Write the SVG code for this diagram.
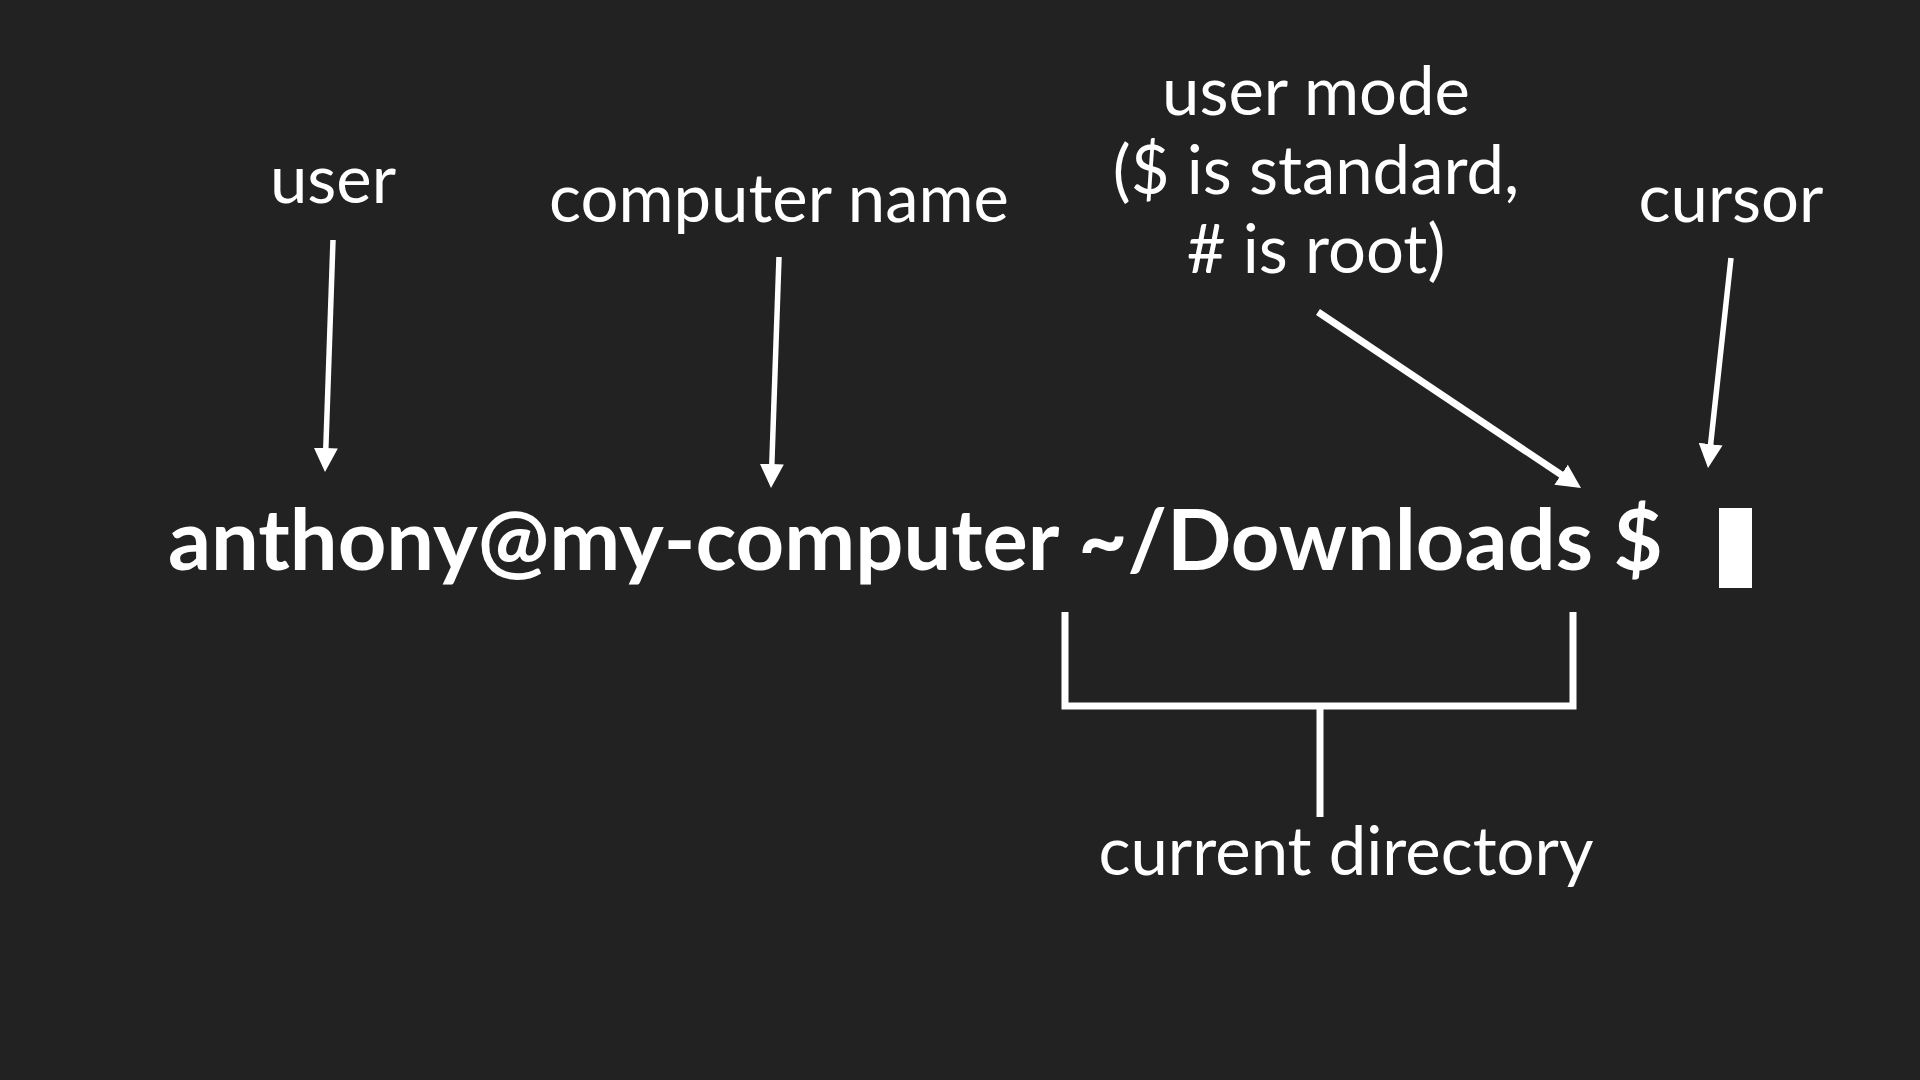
<svg xmlns="http://www.w3.org/2000/svg" width="1920" height="1080" viewBox="0 0 1920 1080">
  <style>
    .lbl { font-family: Lato, "Open Sans", "Liberation Sans", sans-serif; font-size: 67px; fill: #ffffff; text-anchor: middle; }
    .prompt { font-family: Lato, "Open Sans", "Liberation Sans", sans-serif; font-weight: bold; font-size: 84.8px; fill: #ffffff; }
    .arr { stroke: #ffffff; stroke-width: 5.5; fill: none; marker-end: url(#head); }
    .brk { stroke: #ffffff; stroke-width: 7; fill: none; }
  </style>
  <defs>
    <marker id="head" markerUnits="userSpaceOnUse" markerWidth="24" markerHeight="24" refX="4" refY="12" orient="auto" viewBox="0 0 24 24">
      <path d="M0,0 L24,12 L0,24 z" fill="#ffffff"/>
    </marker>
  </defs>
  <rect x="0" y="0" width="1920" height="1080" fill="#222222"/>

  <g id="prompt">
    <text class="prompt" x="168" y="570">anthony@my-computer ~/Downloads $</text>
  </g>
  <g id="cursor-block">
    <rect x="1719" y="508" width="33" height="80" fill="#ffffff"/>
  </g>

  <g id="label-user"><text class="lbl" x="333" y="203">user</text></g>
  <g id="label-computer"><text class="lbl" x="779" y="222">computer name</text></g>
  <g id="label-mode">
    <text class="lbl" x="1316" y="115">user mode</text>
    <text class="lbl" x="1316" y="194">($ is standard,</text>
    <text class="lbl" x="1316" y="273"># is root)</text>
  </g>
  <g id="label-cursor"><text class="lbl" x="1731" y="222">cursor</text></g>
  <g id="label-dir"><text class="lbl" x="1346" y="875">current directory</text></g>

  <g id="connectors">
    <line class="arr" x1="333" y1="240" x2="325.7" y2="452"/>
    <line class="arr" x1="779" y1="257" x2="771.7" y2="468"/>
    <line class="arr" x1="1731" y1="258" x2="1710.2" y2="448.1"/>
    <line class="arr" style="stroke-width:7" x1="1318" y1="312" x2="1564.4" y2="476.9"/>
    <path class="brk" d="M1065,612 V706 H1573 V612"/>
    <line class="brk" x1="1320" y1="706" x2="1320" y2="817"/>
  </g>
</svg>
